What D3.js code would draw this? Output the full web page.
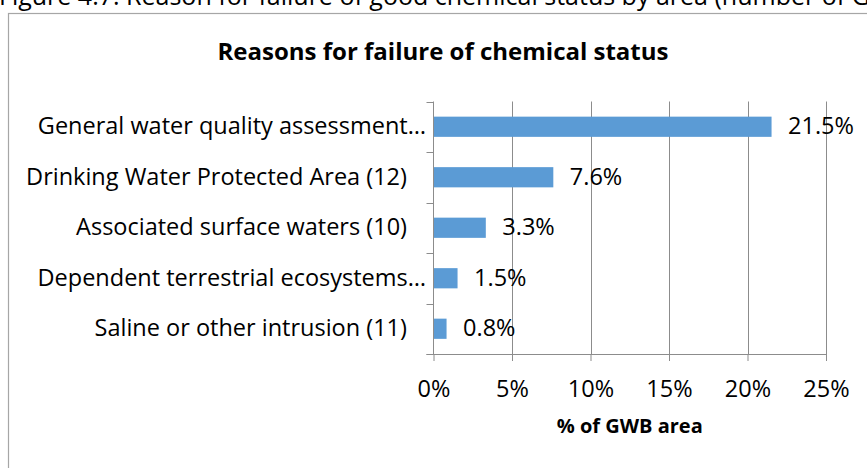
<!DOCTYPE html>
<html><head><meta charset="utf-8">
<script src="https://cdn.jsdelivr.net/npm/d3@7"></script>
<style>
body{margin:0;background:#fff;overflow:hidden}
svg{display:block}
text{font-family:"Open Sans",Lato,sans-serif;fill:#000}
</style>
</head><body>
<script>
const captionText = "Figure 4.7: Reason for failure of good chemical status by area (number of GWBs)";
const chartTitle = "Reasons for failure of chemical status";
const axisTitle = "% of GWB area";
const categories = [
  "General water quality assessment\u2026",
  "Drinking Water Protected Area (12)",
  "Associated surface waters (10)",
  "Dependent terrestrial ecosystems\u2026",
  "Saline or other intrusion (11)"
];
const values = [21.5, 7.6, 3.3, 1.5, 0.8];
const valueLabels = ["21.5%", "7.6%", "3.3%", "1.5%", "0.8%"];
const xTicks = [0, 5, 10, 15, 20, 25];
const xTickLabels = ["0%", "5%", "10%", "15%", "20%", "25%"];

const W = 867, H = 468;
const svg = d3.select("body").append("svg").attr("width", W).attr("height", H);

const plot = {left: 433.5, right: 826, top: 101.5, bottom: 354};
const gridColor = "#8c8c8c";
const FS = 23.5;

// caption (cut off at top, as in the source)
svg.append("text").attr("x", -1).attr("y", 5).attr("font-size", 25).text(captionText);

// chart border
svg.append("rect").attr("x", 8.5).attr("y", 13.5).attr("width", 900).attr("height", 520)
  .attr("fill", "none").attr("stroke", "#a6a6a6").attr("stroke-width", 1.2);

svg.append("text").attr("x", 443).attr("y", 59.5).attr("text-anchor", "middle")
  .attr("font-size", 24).attr("font-weight", "bold").text(chartTitle);

const x = d3.scaleLinear().domain([0, 25]).range([plot.left, plot.right]);
const y = d3.scaleBand().domain(categories).range([plot.top, plot.bottom])
  .paddingInner(0.6).paddingOuter(0.3);

// gridlines
svg.append("g").selectAll("line").data(xTicks.slice(1)).join("line")
  .attr("x1", d => Math.round(x(d)) + 0.5).attr("x2", d => Math.round(x(d)) + 0.5)
  .attr("y1", plot.top).attr("y2", plot.bottom)
  .attr("stroke", gridColor).attr("stroke-width", 1);

// x axis
const xAxis = d3.axisBottom(x).tickValues(xTicks).tickFormat((d, i) => xTickLabels[i])
  .tickSizeInner(7).tickSizeOuter(0).tickPadding(19);
const gx = svg.append("g").attr("transform", `translate(0,${plot.bottom})`).call(xAxis);
gx.select(".domain").attr("stroke", gridColor).attr("d", `M${plot.left - 7},0.5H${plot.right}`);
gx.selectAll(".tick line").attr("stroke", gridColor);
gx.selectAll(".tick text").attr("font-size", FS).attr("font-family", "Open Sans").attr("fill", "#000");

// y axis line + boundary ticks
const step = y.step();
svg.append("line").attr("x1", plot.left).attr("x2", plot.left)
  .attr("y1", plot.top).attr("y2", plot.bottom).attr("stroke", gridColor);
svg.append("g").selectAll("line").data(d3.range(categories.length + 1)).join("line")
  .attr("x1", plot.left - 7).attr("x2", plot.left)
  .attr("y1", i => Math.round(plot.top + i * step) + 0.5)
  .attr("y2", i => Math.round(plot.top + i * step) + 0.5)
  .attr("stroke", gridColor);

// bars
svg.append("g").selectAll("rect").data(values).join("rect")
  .attr("x", x(0) + 0.5).attr("y", (d, i) => y(categories[i]))
  .attr("width", d => x(d) - x(0)).attr("height", y.bandwidth())
  .attr("fill", "#5b9bd5");

// value labels
svg.append("g").selectAll("text").data(values).join("text")
  .attr("x", d => x(d) + 17)
  .attr("y", (d, i) => y(categories[i]) + y.bandwidth() / 2 + 7.5)
  .attr("font-size", FS).text((d, i) => valueLabels[i]);

// category labels
svg.append("g").selectAll("text").data(categories).join("text")
  .attr("x", d => d.endsWith("\u2026") ? plot.left - 7.5 : plot.left - 26.5)
  .attr("y", d => y(d) + y.bandwidth() / 2 + 7.5)
  .attr("text-anchor", "end").attr("font-size", FS).text(d => d);

// axis title
svg.append("text").attr("x", (plot.left + plot.right) / 2).attr("y", 433)
  .attr("text-anchor", "middle").attr("font-size", 20).attr("font-weight", "bold").text(axisTitle);
</script>
</body></html>
